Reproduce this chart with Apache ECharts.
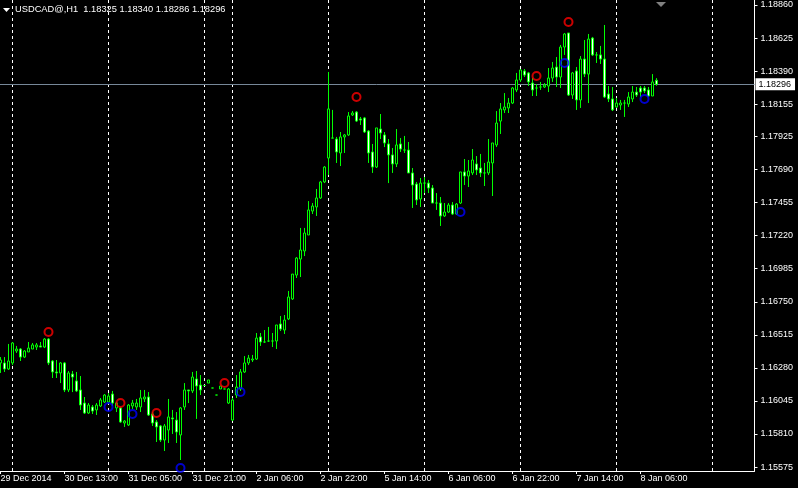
<!DOCTYPE html>
<html>
<head>
<meta charset="utf-8">
<script src="https://cdn.jsdelivr.net/npm/echarts@6/dist/echarts.min.js"></script>
<style>
html,body{margin:0;padding:0;background:#000;}
#chart{width:798px;height:488px;}
</style>
</head>
<body>
<div id="chart"></div>
<script>
// ---- data (USDCAD@, H1) ----
const symbolName = 'USDCAD@,H1';
// trading sessions: [date, first hour, number of hourly bars]
const sessions = [
  ['2014-12-29', 21, 3], ['2014-12-30', 0, 24], ['2014-12-31', 0, 24],
  ['2015-01-01', 0, 7], ['2015-01-02', 0, 24], ['2015-01-05', 0, 24],
  ['2015-01-06', 0, 24], ['2015-01-07', 0, 24], ['2015-01-08', 0, 24],
  ['2015-01-09', 0, 11]
];
const tickIdx  = [0, 16, 32, 48, 64, 80, 96, 112, 128, 144, 160];
const tickText = ['29 Dec 2014', '30 Dec 13:00', '31 Dec 05:00', '31 Dec 21:00', '2 Jan 06:00',
  '2 Jan 22:00', '5 Jan 14:00', '6 Jan 06:00', '6 Jan 22:00', '7 Jan 14:00', '8 Jan 06:00'];
const yTicks = [1.15575, 1.15810, 1.16045, 1.16280, 1.16515, 1.16750, 1.16985, 1.17220,
  1.17455, 1.17690, 1.17925, 1.18155, 1.18390, 1.18625, 1.18860];

const opens = [
1.16315,1.16315,1.16272,1.16315,1.16400,1.16414,1.16357,1.16393,1.16414,1.16428,
1.16436,1.16428,1.16485,1.16329,1.16251,1.16244,1.16315,1.16123,1.16236,1.16187,
1.16123,1.16030,1.15959,1.16002,1.15981,1.16009,1.16037,1.16037,1.16094,1.15995,
1.15995,1.15888,1.15874,1.16009,1.16002,1.16002,1.16059,1.16073,1.15952,1.15895,
1.15867,1.15767,1.15838,1.15924,1.15909,1.15803,1.16002,1.16123,1.16116,1.16201,
1.16158,1.16155,1.16172,1.16137,1.16087,1.16130,1.16130,1.16030,1.15909,1.16087,
1.16130,1.16251,1.16315,1.16336,1.16343,1.16500,1.16464,1.16471,1.16471,1.16471,
1.16592,1.16549,1.16628,1.16770,1.16940,1.17054,1.17111,1.17225,1.17395,1.17424,
1.17488,1.17602,1.17772,1.17914,1.17907,1.17808,1.17922,1.17936,1.18078,1.18099,
1.18050,1.18057,1.17964,1.17815,1.17708,1.17978,1.17936,1.17872,1.17794,1.17730,
1.17872,1.17829,1.17829,1.17666,1.17587,1.17481,1.17594,1.17594,1.17559,1.17452,
1.17452,1.17360,1.17388,1.17438,1.17374,1.17452,1.17673,1.17644,1.17666,1.17730,
1.17701,1.17666,1.17666,1.17737,1.17865,1.18035,1.18114,1.18128,1.18163,1.18256,
1.18327,1.18391,1.18377,1.18305,1.18270,1.18277,1.18277,1.18284,1.18341,1.18419,
1.18348,1.18561,1.18661,1.18220,1.18391,1.18185,1.18476,1.18369,1.18625,1.18505,
1.18505,1.18476,1.18227,1.18192,1.18135,1.18149,1.18163,1.18156,1.18192,1.18241,
1.18270,1.18270,1.18256,1.18213,1.18325];
const closes = [
1.16336,1.16272,1.16329,1.16457,1.16414,1.16357,1.16400,1.16421,1.16443,1.16443,
1.16428,1.16485,1.16315,1.16251,1.16244,1.16315,1.16123,1.16244,1.16215,1.16116,
1.16016,1.15959,1.16016,1.15973,1.16016,1.16052,1.16087,1.16080,1.16030,1.16030,
1.15895,1.15902,1.16016,1.16030,1.16030,1.16066,1.16073,1.15945,1.15888,1.15860,
1.15767,1.15867,1.15931,1.15917,1.15824,1.15995,1.16123,1.16116,1.16215,1.16151,
1.16123,1.16155,1.16194,1.16137,1.16087,1.16151,1.16130,1.16130,1.16052,1.16144,
1.16251,1.16315,1.16350,1.16343,1.16492,1.16464,1.16464,1.16471,1.16471,1.16585,
1.16556,1.16620,1.16784,1.16947,1.17061,1.17118,1.17239,1.17403,1.17431,1.17488,
1.17602,1.17708,1.18121,1.17914,1.17815,1.17922,1.17936,1.18071,1.18092,1.18035,
1.18042,1.17957,1.17808,1.17708,1.17986,1.17950,1.17879,1.17794,1.17730,1.17865,
1.17836,1.17829,1.17666,1.17580,1.17474,1.17594,1.17594,1.17559,1.17452,1.17452,
1.17360,1.17388,1.17438,1.17374,1.17445,1.17673,1.17644,1.17680,1.17758,1.17687,
1.17666,1.17666,1.17744,1.17879,1.18021,1.18121,1.18135,1.18163,1.18270,1.18327,
1.18398,1.18362,1.18313,1.18256,1.18270,1.18277,1.18291,1.18341,1.18412,1.18348,
1.18561,1.18654,1.18220,1.18377,1.18185,1.18476,1.18369,1.18618,1.18505,1.18505,
1.18476,1.18206,1.18192,1.18114,1.18163,1.18163,1.18163,1.18206,1.18241,1.18220,
1.18241,1.18249,1.18213,1.18313,1.18296];
const lows = [
1.16244,1.16251,1.16265,1.16300,1.16386,1.16329,1.16350,1.16393,1.16414,1.16407,
1.16428,1.16421,1.16300,1.16208,1.16208,1.16172,1.16108,1.16108,1.16108,1.16108,
1.15981,1.15952,1.15952,1.15952,1.15945,1.16002,1.16030,1.16023,1.16009,1.15966,
1.15888,1.15860,1.15867,1.15988,1.15981,1.15966,1.16037,1.15938,1.15867,1.15753,
1.15753,1.15689,1.15746,1.15810,1.15746,1.15625,1.15981,1.16030,1.16101,1.15917,
1.16087,1.16151,1.16172,1.16137,1.16087,1.16130,1.16130,1.16023,1.15902,1.16066,
1.16116,1.16244,1.16300,1.16322,1.16336,1.16436,1.16457,1.16464,1.16428,1.16414,
1.16542,1.16521,1.16620,1.16763,1.16919,1.16926,1.17075,1.17225,1.17374,1.17360,
1.17481,1.17594,1.17651,1.17914,1.17737,1.17715,1.17808,1.17929,1.18071,1.18028,
1.18007,1.17950,1.17737,1.17666,1.17701,1.17907,1.17850,1.17594,1.17666,1.17708,
1.17815,1.17808,1.17666,1.17417,1.17438,1.17424,1.17523,1.17523,1.17452,1.17403,
1.17289,1.17353,1.17381,1.17367,1.17367,1.17445,1.17580,1.17566,1.17651,1.17651,
1.17637,1.17573,1.17651,1.17502,1.17850,1.17943,1.18092,1.18092,1.18156,1.18241,
1.18313,1.18348,1.18284,1.18213,1.18213,1.18256,1.18270,1.18241,1.18313,1.18277,
1.18270,1.18505,1.18213,1.18192,1.18114,1.18128,1.18348,1.18163,1.18497,1.18448,
1.18441,1.18199,1.18170,1.18106,1.18128,1.18114,1.18064,1.18135,1.18170,1.18206,
1.18206,1.18234,1.18206,1.18213,1.18286];
const highs = [
1.16357,1.16357,1.16450,1.16464,1.16436,1.16421,1.16407,1.16464,1.16457,1.16457,
1.16464,1.16492,1.16492,1.16336,1.16336,1.16322,1.16322,1.16258,1.16258,1.16251,
1.16222,1.16073,1.16030,1.16016,1.16030,1.16066,1.16094,1.16101,1.16116,1.16037,
1.16002,1.15909,1.16023,1.16052,1.16059,1.16123,1.16123,1.16108,1.15966,1.15909,
1.15874,1.15881,1.16059,1.15981,1.15966,1.16002,1.16172,1.16123,1.16251,1.16258,
1.16229,1.16158,1.16194,1.16137,1.16087,1.16151,1.16130,1.16137,1.16066,1.16229,
1.16272,1.16364,1.16372,1.16372,1.16528,1.16528,1.16549,1.16571,1.16528,1.16585,
1.16649,1.16656,1.16827,1.16947,1.17068,1.17275,1.17275,1.17466,1.17452,1.17552,
1.17609,1.17715,1.18384,1.18114,1.17922,1.17957,1.17943,1.18099,1.18106,1.18106,
1.18064,1.18064,1.17971,1.17872,1.17986,1.18085,1.17957,1.17907,1.17843,1.17978,
1.17914,1.17929,1.17886,1.17701,1.17602,1.17630,1.17637,1.17616,1.17580,1.17523,
1.17495,1.17452,1.17452,1.17459,1.17452,1.17673,1.17765,1.17758,1.17836,1.17786,
1.17801,1.17737,1.17907,1.17879,1.18106,1.18163,1.18234,1.18199,1.18277,1.18377,
1.18405,1.18405,1.18384,1.18341,1.18298,1.18313,1.18305,1.18412,1.18455,1.18490,
1.18576,1.18661,1.18661,1.18384,1.18419,1.18497,1.18611,1.18654,1.18633,1.18526,
1.18569,1.18718,1.18284,1.18277,1.18199,1.18185,1.18185,1.18241,1.18284,1.18277,
1.18284,1.18284,1.18277,1.18369,1.18340];

// fractal-style markers: [bar index, price]
const upMarks   = [[12,1.16535],[30,1.16030],[39,1.15959],[56,1.16172],[89,1.18206],[134,1.18355],[142,1.18739]];
const downMarks = [[27,1.16002],[33,1.15952],[45,1.15568],[60,1.16108],[115,1.17388],[141,1.18448],[161,1.18192]];

// ---- build categories ----
const categories = [];
const dayStarts = [];
sessions.forEach(function (s, si) {
  if (si > 0) dayStarts.push(categories.length);
  for (let h = 0; h < s[2]; h++) {
    const hh = s[1] + h;
    categories.push(s[0] + ' ' + (hh < 10 ? '0' : '') + hh + ':00');
  }
});
const labelMap = {};
tickIdx.forEach(function (t, i) { labelMap[t] = tickText[i]; });
const showTick = function (idx) { return labelMap[idx] !== undefined; };

const candleData = opens.map(function (o, i) { return [o, closes[i], lows[i], highs[i]]; });
const last = opens.length - 1;
const lastClose = closes[last];
const font = 'Liberation Sans, Arial, sans-serif';

const dividerData = dayStarts.map(function (i) {
  return { xAxis: categories[i] };
});

const chart = echarts.init(document.getElementById('chart'), null, { renderer: 'canvas' });
chart.setOption({
  backgroundColor: '#000000',
  animation: false,
  grid: { left: -1.5, right: 43.5, top: 0, bottom: 17, outerBoundsMode: 'none', containLabel: false },
  xAxis: {
    type: 'category', data: categories, boundaryGap: true,
    axisLine: { show: true, lineStyle: { color: '#ffffff', width: 1 } },
    axisTick: { show: true, alignWithLabel: true, interval: showTick, length: 3, lineStyle: { color: '#ffffff' } },
    axisLabel: {
      interval: showTick, formatter: function (v, i) { return labelMap[i] || ''; },
      align: 'left', color: '#ffffff', fontSize: 9, fontFamily: font, margin: 3
    },
    splitLine: { show: false }
  },
  yAxis: {
    type: 'value', position: 'right', scale: true,
    min: 1.155468, max: 1.188956,
    axisLine: { show: true, lineStyle: { color: '#ffffff', width: 1 } },
    axisTick: { show: true, length: 3, customValues: yTicks, lineStyle: { color: '#ffffff' } },
    axisLabel: {
      customValues: yTicks, color: '#ffffff', fontSize: 9, fontFamily: font, margin: 6,
      formatter: function (v) { return v.toFixed(5); }
    },
    splitLine: { show: false }
  },
  series: [
    {
      type: 'candlestick', data: candleData, barWidth: 2, z: 2, clip: false,
      itemStyle: {
        color: '#000000', color0: '#ffffff',
        borderColor: '#00ff00', borderColor0: '#00ff00', borderColorDoji: '#00ff00', borderWidth: 1
      }
    },
    {
      type: 'scatter', data: upMarks, symbol: 'circle', symbolSize: 8, z: 3, clip: false,
      itemStyle: { color: 'rgba(0,0,0,0)', borderColor: '#ff0000', borderWidth: 2 },
      markLine: {
        silent: true, symbol: 'none', z: 1, animation: false,
        lineStyle: { color: '#ffffff', type: [3, 3], width: 1 },
        label: { show: false },
        data: dividerData
      }
    },
    {
      type: 'scatter', data: downMarks, symbol: 'circle', symbolSize: 8, z: 3, clip: false,
      itemStyle: { color: 'rgba(0,0,0,0)', borderColor: '#0000ff', borderWidth: 2 },
      markLine: {
        silent: true, symbol: 'none', z: 1, animation: false, precision: 5,
        lineStyle: { color: '#778899', type: 'solid', width: 1 },
        label: {
          show: true, position: 'end', distance: 1,
          formatter: lastClose.toFixed(5),
          color: '#000', backgroundColor: '#ffffff',
          fontSize: 9, fontFamily: font, padding: [2, 4, 1, 3]
        },
        data: [{ yAxis: lastClose }]
      }
    }
  ],
  graphic: [
    { type: 'polygon', shape: { points: [[3, 8], [10, 8], [6.5, 12]] }, style: { fill: '#ffffff' } },
    {
      type: 'text', left: 15, top: 5,
      style: {
        text: symbolName + '  ' + [opens[last], highs[last], lows[last], closes[last]].map(function (v) { return v.toFixed(5); }).join(' '),
        fill: '#ffffff', font: '9.3px ' + font
      }
    },
    { type: 'polygon', shape: { points: [[656, 2], [666, 2], [661, 7]] }, style: { fill: '#808080' } }
  ]
});
</script>
</body>
</html>
